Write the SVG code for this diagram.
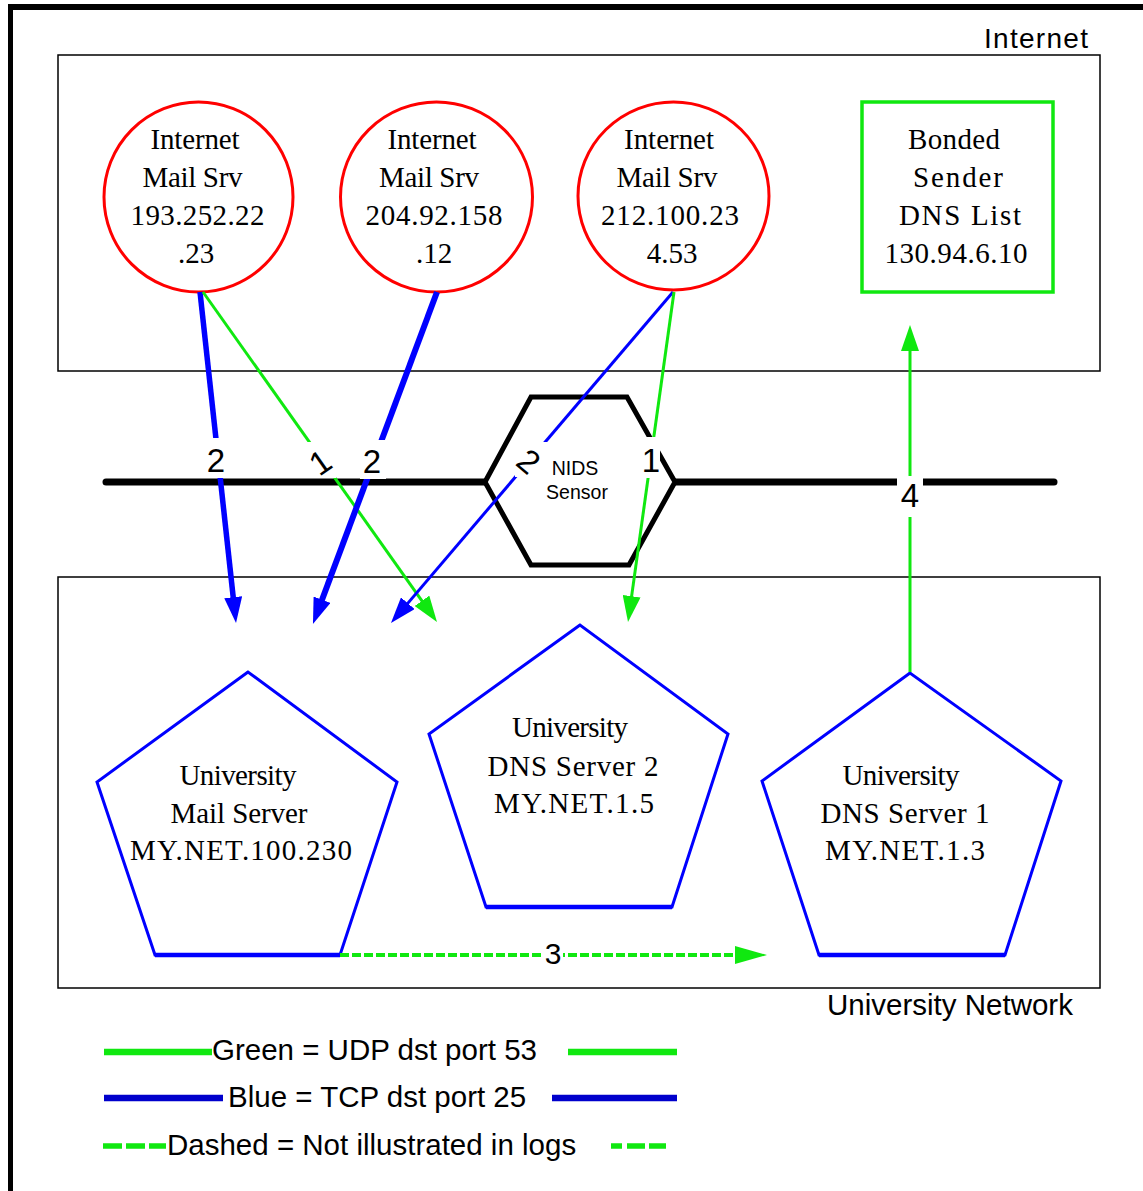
<svg xmlns="http://www.w3.org/2000/svg" width="1143" height="1191" viewBox="0 0 1143 1191">
<style>
  .serif{font-family:"Liberation Serif","Times New Roman",serif;font-size:29px;fill:#000;text-anchor:middle}
  .sans{font-family:"Liberation Sans",Arial,sans-serif;font-size:29.5px;fill:#000}
  .small{font-size:19.5px;text-anchor:middle}
  .lbl{font-family:"Liberation Sans",Arial,sans-serif;font-size:33px;fill:#000;text-anchor:middle}
  .circ{fill:#fff;stroke:#ff0000;stroke-width:3}
  .pent{fill:#fff;stroke:#0000ff;stroke-width:3;stroke-linejoin:miter}
  .pbase{stroke:#0000ff;stroke-width:4.5}
  .zone{fill:none;stroke:#000;stroke-width:1.5}
  .blue{stroke:#0000ff;fill:none}
  .green{stroke:#10e810;fill:none}
  .gap{fill:#fff}
</style>
<defs>
  <marker id="ab" markerUnits="userSpaceOnUse" markerWidth="26" markerHeight="18" viewBox="0 0 26 18" refX="11" refY="9" orient="auto">
    <path d="M0,0 L26,9 L0,18 z" fill="#0000ff"/>
  </marker>
  <marker id="ag" markerUnits="userSpaceOnUse" markerWidth="26" markerHeight="18" viewBox="0 0 26 18" refX="11" refY="9" orient="auto">
    <path d="M0,0 L26,9 L0,18 z" fill="#10e810"/>
  </marker>
  <marker id="agd" markerUnits="userSpaceOnUse" markerWidth="32" markerHeight="18" viewBox="0 0 32 18" refX="17" refY="9" orient="auto">
    <path d="M0,0 L32,9 L0,18 z" fill="#10e810"/>
  </marker>
</defs>

<rect width="1143" height="1191" fill="#fff"/>

<!-- frame -->
<g id="frame">
  <line x1="8" y1="7" x2="1143" y2="7" stroke="#000" stroke-width="6"/>
  <line x1="10.5" y1="4" x2="10.5" y2="1191" stroke="#000" stroke-width="5"/>
</g>

<!-- zones -->
<g id="zone-internet">
  <rect class="zone" x="58" y="55" width="1042" height="316"/>
  <text class="sans" x="1036" y="48" text-anchor="middle" style="font-size:28px" textLength="104">Internet</text>
</g>
<g id="zone-university">
  <rect class="zone" x="58" y="577" width="1042" height="411"/>
  <text class="sans" x="950" y="1015" text-anchor="middle">University Network</text>
</g>

<!-- network bus -->
<g id="bus">
  <line x1="106" y1="482" x2="485" y2="482" stroke="#000" stroke-width="7" stroke-linecap="round"/>
  <line x1="675" y1="482" x2="1054" y2="482" stroke="#000" stroke-width="7" stroke-linecap="round"/>
</g>

<g id="nids-sensor">
  <polygon points="485,482 531,397 627,397 675,482 629,565 531,565" fill="#fff" stroke="#000" stroke-width="5" stroke-linejoin="miter"/>
  <text class="sans small" x="575" y="475">NIDS</text>
  <text class="sans small" x="577" y="499">Sensor</text>
</g>

<g id="inet-mail-1">
  <ellipse class="circ" cx="198.5" cy="197" rx="94.5" ry="95"/>
  <text class="serif" x="195" y="149" textLength="89">Internet</text>
  <text class="serif" x="192.5" y="187" textLength="100">Mail Srv</text>
  <text class="serif" x="197.5" y="225" textLength="134">193.252.22</text>
  <text class="serif" x="196" y="263">.23</text>
</g>
<g id="inet-mail-2">
  <ellipse class="circ" cx="436.5" cy="197" rx="96" ry="95"/>
  <text class="serif" x="432" y="149" textLength="89">Internet</text>
  <text class="serif" x="429" y="187" textLength="100">Mail Srv</text>
  <text class="serif" x="434" y="225" textLength="137">204.92.158</text>
  <text class="serif" x="434" y="263">.12</text>
</g>
<g id="inet-mail-3">
  <ellipse class="circ" cx="673.5" cy="196" rx="95.5" ry="94"/>
  <text class="serif" x="669" y="149" textLength="90">Internet</text>
  <text class="serif" x="667" y="187" textLength="101">Mail Srv</text>
  <text class="serif" x="670" y="225" textLength="138">212.100.23</text>
  <text class="serif" x="672" y="263">4.53</text>
</g>
<g id="bonded-sender">
  <rect x="862" y="102" width="191" height="190" fill="#fff" stroke="#10e810" stroke-width="3.5"/>
  <text class="serif" x="954" y="149" textLength="92">Bonded</text>
  <text class="serif" x="958" y="187" textLength="90">Sender</text>
  <text class="serif" x="960" y="225" textLength="122">DNS List</text>
  <text class="serif" x="956" y="263" textLength="143">130.94.6.10</text>
</g>

<g id="univ-mail">
  <polygon class="pent" points="248,672 97,782 155,955 340,955 397,782"/>
  <line class="pbase" x1="155" y1="955" x2="340" y2="955"/>
  <text class="serif" x="238" y="785" textLength="117">University</text>
  <text class="serif" x="239" y="823" textLength="137">Mail Server</text>
  <text class="serif" x="241" y="860" textLength="222">MY.NET.100.230</text>
</g>
<g id="univ-dns2">
  <polygon class="pent" points="580,625 429,734 486,907 672,907 728,734"/>
  <line class="pbase" x1="486" y1="907" x2="672" y2="907"/>
  <text class="serif" x="570" y="737" textLength="116">University</text>
  <text class="serif" x="573" y="776" textLength="171">DNS Server 2</text>
  <text class="serif" x="574" y="813" textLength="160">MY.NET.1.5</text>
</g>
<g id="univ-dns1">
  <polygon class="pent" points="910,673 762,781 819,955 1005,955 1061,781"/>
  <line class="pbase" x1="819" y1="955" x2="1005" y2="955"/>
  <text class="serif" x="901" y="785" textLength="117">University</text>
  <text class="serif" x="905" y="823" textLength="169">DNS Server 1</text>
  <text class="serif" x="905" y="860" textLength="160">MY.NET.1.3</text>
</g>

<!-- connectors -->
<g id="connectors">
  <line class="blue" x1="200" y1="292" x2="234.4" y2="608.1" stroke-width="5.5" marker-end="url(#ab)"/>
  <line class="green" x1="203" y1="292" x2="428.3" y2="609.8" stroke-width="3" marker-end="url(#ag)"/>
  <line class="blue" x1="437" y1="292" x2="318.2" y2="610" stroke-width="6" marker-end="url(#ab)"/>
  <line class="blue" x1="673" y1="292" x2="400.7" y2="611.6" stroke-width="3" marker-end="url(#ab)"/>
  <line class="green" x1="674" y1="292" x2="630.1" y2="607.1" stroke-width="3" marker-end="url(#ag)"/>
  <line class="green" x1="910" y1="672" x2="910" y2="340" stroke-width="3" marker-end="url(#ag)"/>
  <line class="green" x1="340" y1="955" x2="752" y2="955" stroke-width="4" stroke-dasharray="9 3" marker-end="url(#agd)"/>

  <!-- label gaps -->
  <rect class="gap" x="204" y="438" width="25" height="40"/>
  <rect class="gap" x="306" y="442" width="30" height="36"/>
  <rect class="gap" x="360" y="440" width="26" height="39"/>
  <rect class="gap" x="515" y="442" width="33" height="35"/>
  <rect class="gap" x="642" y="437" width="18" height="41"/>
  <rect class="gap" x="897" y="476" width="26" height="41"/>
  <rect class="gap" x="544" y="944" width="19" height="22"/>

  <text class="lbl" x="216" y="472">2</text>
  <text class="lbl" x="320" y="474" transform="rotate(-35 320 462)">1</text>
  <text class="lbl" x="372" y="473">2</text>
  <text class="lbl" x="529" y="473" transform="rotate(40 529 461)">2</text>
  <text class="lbl" x="651" y="472">1</text>
  <text class="lbl" x="910" y="507">4</text>
  <text class="lbl" x="553" y="964" style="font-size:30px">3</text>
</g>

<!-- legend -->
<g id="legend">
  <line x1="104" y1="1052" x2="212" y2="1052" stroke="#10e810" stroke-width="6.5"/>
  <text class="sans" x="212" y="1060">Green = UDP dst port 53</text>
  <line x1="568" y1="1052" x2="677" y2="1052" stroke="#10e810" stroke-width="6.5"/>

  <line x1="104" y1="1098" x2="223" y2="1098" stroke="#0000cc" stroke-width="6.5"/>
  <text class="sans" x="228" y="1107">Blue = TCP dst port 25</text>
  <line x1="552" y1="1098" x2="677" y2="1098" stroke="#0000cc" stroke-width="6.5"/>

  <line x1="103" y1="1146" x2="166" y2="1146" stroke="#10e810" stroke-width="5.5" stroke-dasharray="19 4"/>
  <text class="sans" x="167" y="1155">Dashed = Not illustrated in logs</text>
  <line x1="611" y1="1146" x2="666" y2="1146" stroke="#10e810" stroke-width="5.5" stroke-dasharray="11 5 18 4 17 100"/>
</g>
</svg>
